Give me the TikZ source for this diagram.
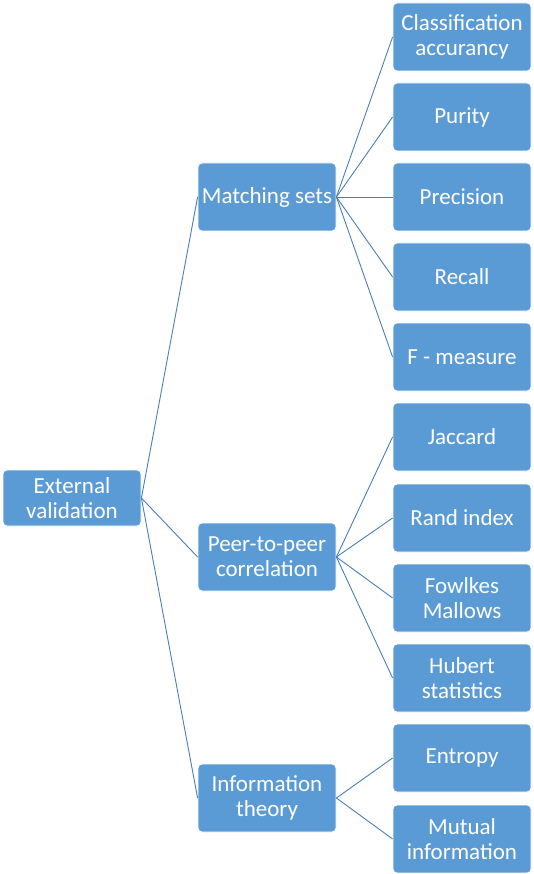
\documentclass[tikz,border=0pt]{standalone}
\usepackage{fontspec}
\setmainfont{Carlito}
\definecolor{boxfill}{HTML}{5B9BD5}
\definecolor{linecol}{HTML}{4A7EBB}
\begin{document}
\begin{tikzpicture}[x=1pt,y=-1pt,
  box/.style={draw=white, line width=0.8pt, fill=boxfill, rounded corners=4pt,
    text=white, align=center, inner sep=0pt, minimum width=138pt, minimum height=68pt,
    font=\fontsize{23}{25}\selectfont},
  link/.style={draw=linecol, line width=0.9pt}]
\useasboundingbox (0,0) rectangle (534,874);
\node[box, minimum height=56pt] (root) at (72,498) {External\\validation};
\node[box] (ms) at (267,197) {Matching sets};
\node[box] (pp) at (267,557) {Peer-to-peer\\correlation};
\node[box] (it) at (267,798) {Information\\theory};
\node[box] (ca) at (462,37) {Classification\\accurancy};
\node[box] (pu) at (462,117) {Purity};
\node[box] (pr) at (462,197) {Precision};
\node[box] (re) at (462,277) {Recall};
\node[box] (fm) at (462,357) {F - measure};
\node[box] (ja) at (462,437) {Jaccard};
\node[box] (ri) at (462,518) {Rand index};
\node[box] (fo) at (462,598) {Fowlkes\\Mallows};
\node[box] (hu) at (462,678) {Hubert\\statistics};
\node[box] (en) at (462,758) {Entropy};
\node[box] (mi) at (462,839) {Mutual\\information};
\foreach \c in {ms,pp,it} \draw[link] (root.east) -- (\c.west);
\foreach \c in {ca,pu,pr,re,fm} \draw[link] (ms.east) -- (\c.west);
\foreach \c in {ja,ri,fo,hu} \draw[link] (pp.east) -- (\c.west);
\foreach \c in {en,mi} \draw[link] (it.east) -- (\c.west);
\end{tikzpicture}
\end{document}
